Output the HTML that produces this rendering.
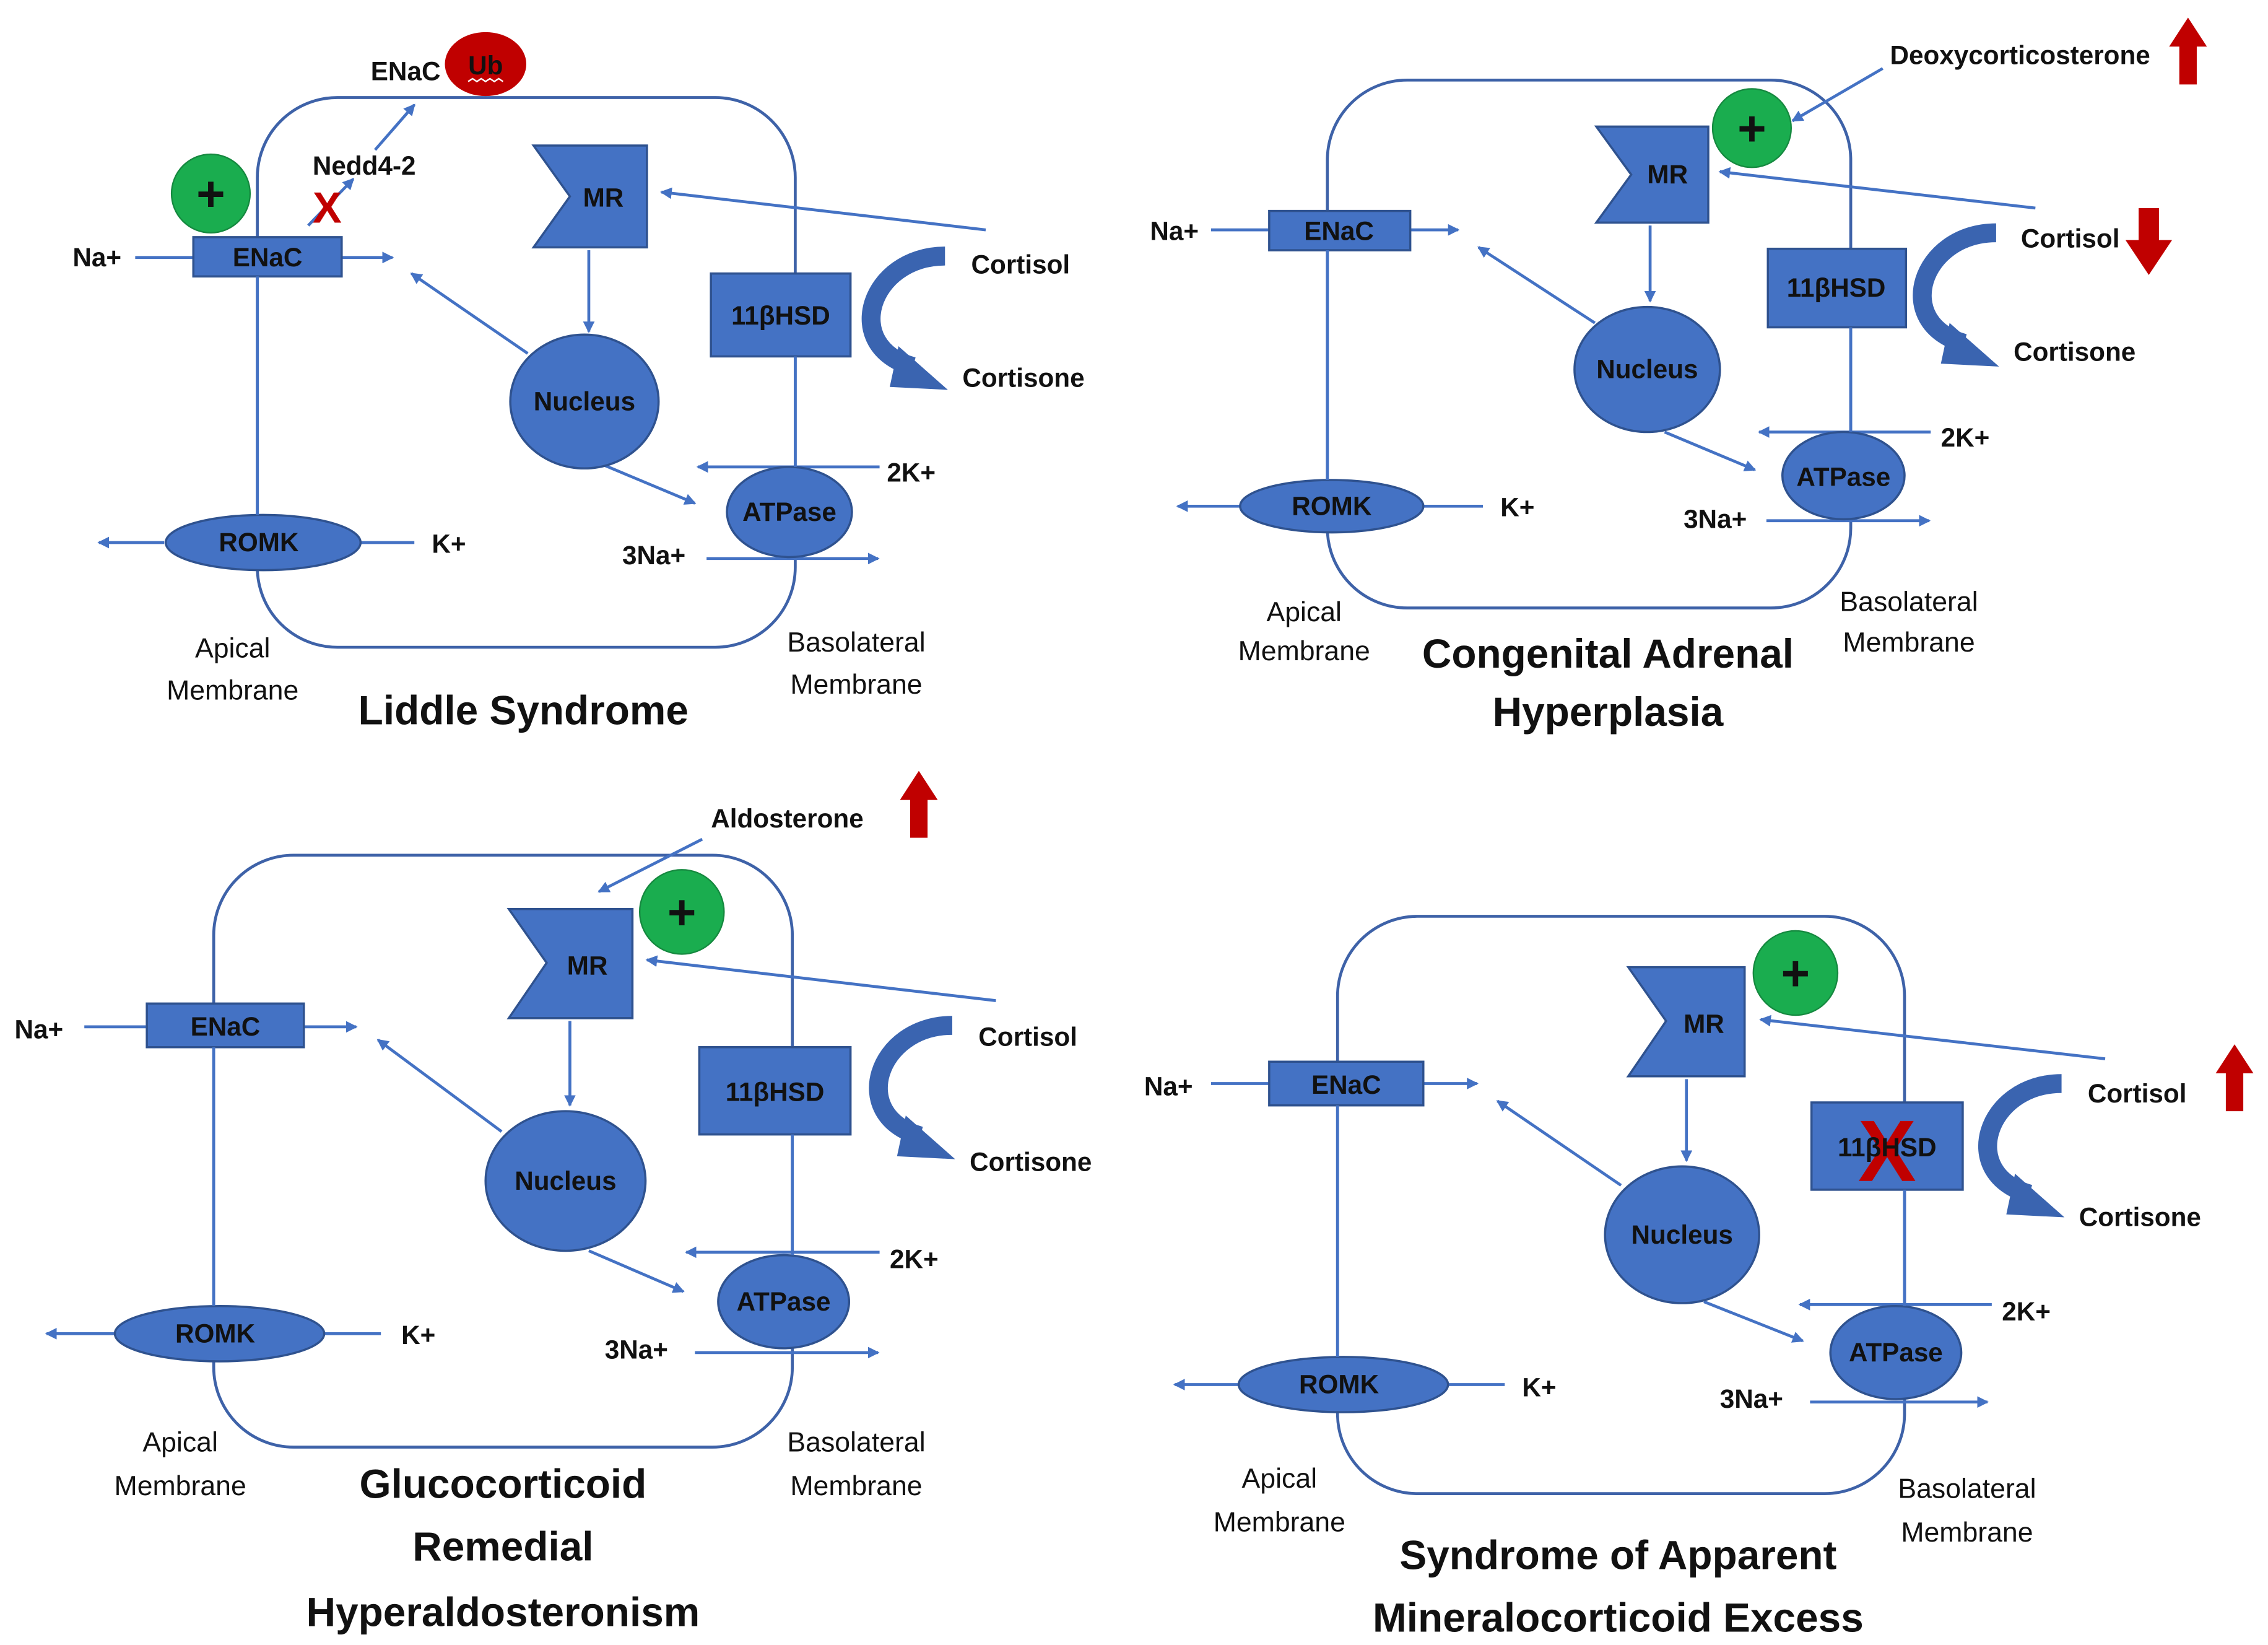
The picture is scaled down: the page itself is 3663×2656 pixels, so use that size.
<!DOCTYPE html>
<html><head><meta charset="utf-8"><style>
html,body{margin:0;padding:0;background:#fff;}
svg{display:block}
text{font-family:"Liberation Sans",sans-serif;fill:#111;}
.b{font-weight:bold;font-size:18px;}
.n{font-size:19px;}
.t{font-weight:bold;font-size:28px;}
</style></head><body>
<svg width="3663" height="2656" viewBox="0 0 1560 1131" xmlns="http://www.w3.org/2000/svg">
<defs>
<marker id="ah" markerWidth="8" markerHeight="8" refX="7" refY="4" orient="auto" markerUnits="userSpaceOnUse" viewBox="0 0 8 8"><path d="M0,0 L8,4 L0,8 Z" fill="#4472C4"/></marker>
<g id="curv">
<path d="M650,176 C598,176 578,238 628,252" fill="none" stroke="#3a64b0" stroke-width="13"/>
<polygon points="618,238 652,268 612,266" fill="#3a64b0"/>
</g>
<g id="up"><polygon points="0,20 13,0 26,20 19,20 19,46 7,46 7,20" fill="#c00000"/></g>
</defs>
<g stroke="#3e62a8" fill="none" stroke-width="2">
<rect x="177" y="67" width="370" height="378" rx="55"/>
<rect x="913" y="55" width="360" height="363" rx="55"/>
<rect x="147" y="588" width="398" height="407" rx="55"/>
<rect x="920" y="630" width="390" height="397" rx="55"/>
</g>
<g stroke="#4472C4" stroke-width="2" fill="none" marker-end="url(#ah)">
<!-- P1 -->
<line x1="93" y1="177" x2="133" y2="177" marker-end="none"/>
<line x1="235" y1="177" x2="270" y2="177"/>
<line x1="212" y1="155" x2="243" y2="123"/>
<line x1="258" y1="103" x2="285" y2="72"/>
<line x1="678" y1="158" x2="455" y2="132"/>
<line x1="405" y1="172" x2="405" y2="228"/>
<line x1="363" y1="243" x2="283" y2="188"/>
<line x1="416" y1="320" x2="478" y2="346"/>
<line x1="605" y1="321" x2="480" y2="321"/>
<line x1="486" y1="384" x2="604" y2="384"/>
<line x1="113" y1="373" x2="68" y2="373"/>
<line x1="248" y1="373" x2="285" y2="373" marker-end="none"/>
<!-- P2 -->
<line x1="833" y1="158" x2="873" y2="158" marker-end="none"/>
<line x1="970" y1="158" x2="1003" y2="158"/>
<line x1="1295" y1="47" x2="1233" y2="83"/>
<line x1="1400" y1="143" x2="1183" y2="118"/>
<line x1="1135" y1="155" x2="1135" y2="207"/>
<line x1="1097" y1="222" x2="1017" y2="170"/>
<line x1="1145" y1="297" x2="1207" y2="323"/>
<line x1="1328" y1="297" x2="1210" y2="297"/>
<line x1="1215" y1="358" x2="1327" y2="358"/>
<line x1="853" y1="348" x2="810" y2="348"/>
<line x1="979" y1="348" x2="1020" y2="348" marker-end="none"/>
<!-- P3 -->
<line x1="58" y1="706" x2="101" y2="706" marker-end="none"/>
<line x1="209" y1="706" x2="245" y2="706"/>
<line x1="483" y1="577" x2="412" y2="613"/>
<line x1="685" y1="688" x2="445" y2="660"/>
<line x1="392" y1="702" x2="392" y2="760"/>
<line x1="345" y1="778" x2="260" y2="715"/>
<line x1="405" y1="860" x2="470" y2="888"/>
<line x1="605" y1="861" x2="472" y2="861"/>
<line x1="478" y1="930" x2="604" y2="930"/>
<line x1="79" y1="917" x2="32" y2="917"/>
<line x1="223" y1="917" x2="262" y2="917" marker-end="none"/>
<!-- P4 -->
<line x1="833" y1="745" x2="873" y2="745" marker-end="none"/>
<line x1="979" y1="745" x2="1016" y2="745"/>
<line x1="1448" y1="728" x2="1211" y2="701"/>
<line x1="1160" y1="742" x2="1160" y2="798"/>
<line x1="1115" y1="815" x2="1030" y2="757"/>
<line x1="1172" y1="895" x2="1240" y2="922"/>
<line x1="1370" y1="897" x2="1238" y2="897"/>
<line x1="1245" y1="964" x2="1367" y2="964"/>
<line x1="852" y1="952" x2="808" y2="952"/>
<line x1="996" y1="952" x2="1035" y2="952" marker-end="none"/>
</g>
<use href="#curv"/>
<use href="#curv" transform="translate(723,-16)"/>
<use href="#curv" transform="translate(5,529)"/>
<use href="#curv" transform="translate(768,569)"/>
<use href="#up" transform="translate(1492,12)"/>
<use href="#up" transform="translate(619,530)"/>
<use href="#up" transform="translate(1524,718)"/>
<polygon points="1471,143 1485,143 1485,165 1494,165 1478,189 1462,165 1471,165" fill="#c00000"/>
<g fill="#4472C4" stroke="#2f528f" stroke-width="1.5">
<!-- P1 -->
<rect x="133" y="163" width="102" height="27"/>
<polygon points="367,100 445,100 445,170 367,170 392,135"/>
<ellipse cx="402" cy="276" rx="51" ry="46"/>
<rect x="489" y="188" width="96" height="57"/>
<ellipse cx="543" cy="352" rx="43" ry="31"/>
<ellipse cx="181" cy="373" rx="67" ry="19"/>
<!-- P2 -->
<rect x="873" y="145" width="97" height="27"/>
<polygon points="1098,87 1175,87 1175,153 1098,153 1122,120"/>
<ellipse cx="1133" cy="254" rx="50" ry="43"/>
<rect x="1216" y="171" width="95" height="54"/>
<ellipse cx="1268" cy="327" rx="42" ry="30"/>
<ellipse cx="916" cy="348" rx="63" ry="18"/>
<!-- P3 -->
<rect x="101" y="690" width="108" height="30"/>
<polygon points="350,625 435,625 435,700 350,700 376,662"/>
<ellipse cx="389" cy="812" rx="55" ry="48"/>
<rect x="481" y="720" width="104" height="60"/>
<ellipse cx="539" cy="895" rx="45" ry="32"/>
<ellipse cx="151" cy="917" rx="72" ry="19"/>
<!-- P4 -->
<rect x="873" y="730" width="106" height="30"/>
<polygon points="1120,665 1200,665 1200,740 1120,740 1146,702"/>
<ellipse cx="1157" cy="849" rx="53" ry="47"/>
<rect x="1246" y="758" width="104" height="60"/>
<ellipse cx="1304" cy="930" rx="45" ry="32"/>
<ellipse cx="924" cy="952" rx="72" ry="19"/>
</g>
<g stroke="#4472C4" stroke-width="2">
<line x1="177" y1="190" x2="177" y2="354"/>
<line x1="547" y1="245" x2="547" y2="321"/>
<line x1="913" y1="172" x2="913" y2="330"/>
<line x1="1273" y1="225" x2="1273" y2="297"/>
<line x1="147" y1="720" x2="147" y2="898"/>
<line x1="545" y1="780" x2="545" y2="863"/>
<line x1="920" y1="760" x2="920" y2="933"/>
<line x1="1310" y1="818" x2="1310" y2="898"/>
</g>
<!-- circles -->
<g fill="#1aad4f" stroke="#15893f">
<circle cx="145" cy="133" r="27"/>
<circle cx="1205" cy="88" r="27"/>
<circle cx="469" cy="627" r="29"/>
<circle cx="1235" cy="669" r="29"/>
</g>
<g font-family="Liberation Sans" font-weight="bold" font-size="34" text-anchor="middle">
<text x="145" y="145">+</text><text x="1205" y="100">+</text><text x="469" y="639">+</text><text x="1235" y="681">+</text>
</g>
<ellipse cx="334" cy="44" rx="28" ry="22" fill="#c00000"/>
<text class="b" x="334" y="51" text-anchor="middle" style="fill:#111">Ub</text>
<path d="M322,56 l3,-2 3,2 3,-2 3,2 3,-2 3,2 3,-2 3,2" stroke="#fff" fill="none" stroke-width="1"/>
<text x="225" y="153" text-anchor="middle" font-weight="bold" font-size="30" style="fill:#c00000">X</text>
<text x="1298" y="812" text-anchor="middle" font-weight="bold" font-size="60" style="fill:#c00000">X</text>
<g class="b" text-anchor="middle">
<text x="184" y="183">ENaC</text><text x="415" y="142">MR</text><text x="402" y="282">Nucleus</text><text x="537" y="223">11βHSD</text><text x="543" y="358">ATPase</text><text x="178" y="379">ROMK</text>
<text x="921" y="165">ENaC</text><text x="1147" y="126">MR</text><text x="1133" y="260">Nucleus</text><text x="1263" y="204">11βHSD</text><text x="1268" y="334">ATPase</text><text x="916" y="354">ROMK</text>
<text x="155" y="712">ENaC</text><text x="404" y="670">MR</text><text x="389" y="818">Nucleus</text><text x="533" y="757">11βHSD</text><text x="539" y="901">ATPase</text><text x="148" y="923">ROMK</text>
<text x="926" y="752">ENaC</text><text x="1172" y="710">MR</text><text x="1157" y="855">Nucleus</text><text x="1298" y="795">11βHSD</text><text x="1304" y="936">ATPase</text><text x="921" y="958">ROMK</text>
</g>
<g class="b">
<text x="50" y="183">Na+</text><text x="215" y="120">Nedd4-2</text><text x="255" y="55">ENaC</text><text x="668" y="188">Cortisol</text><text x="662" y="266">Cortisone</text><text x="610" y="331">2K+</text><text x="428" y="388">3Na+</text><text x="297" y="380">K+</text>
<text x="791" y="165">Na+</text><text x="1300" y="44">Deoxycorticosterone</text><text x="1390" y="170">Cortisol</text><text x="1385" y="248">Cortisone</text><text x="1335" y="307">2K+</text><text x="1158" y="363">3Na+</text><text x="1032" y="355">K+</text>
<text x="10" y="714">Na+</text><text x="489" y="569">Aldosterone</text><text x="673" y="719">Cortisol</text><text x="667" y="805">Cortisone</text><text x="612" y="872">2K+</text><text x="416" y="934">3Na+</text><text x="276" y="924">K+</text>
<text x="787" y="753">Na+</text><text x="1436" y="758">Cortisol</text><text x="1430" y="843">Cortisone</text><text x="1377" y="908">2K+</text><text x="1183" y="968">3Na+</text><text x="1047" y="960">K+</text>
</g>
<g class="n" text-anchor="middle">
<text x="160" y="452">Apical</text><text x="160" y="481">Membrane</text><text x="589" y="448">Basolateral</text><text x="589" y="477">Membrane</text>
<text x="897" y="427">Apical</text><text x="897" y="454">Membrane</text><text x="1313" y="420">Basolateral</text><text x="1313" y="448">Membrane</text>
<text x="124" y="998">Apical</text><text x="124" y="1028">Membrane</text><text x="589" y="998">Basolateral</text><text x="589" y="1028">Membrane</text>
<text x="880" y="1023">Apical</text><text x="880" y="1053">Membrane</text><text x="1353" y="1030">Basolateral</text><text x="1353" y="1060">Membrane</text>
</g>
<g class="t" text-anchor="middle">
<text x="360" y="498">Liddle Syndrome</text>
<text x="1106" y="459">Congenital Adrenal</text><text x="1106" y="499">Hyperplasia</text>
<text x="346" y="1030">Glucocorticoid</text><text x="346" y="1073">Remedial</text><text x="346" y="1118">Hyperaldosteronism</text>
<text x="1113" y="1079">Syndrome of Apparent</text><text x="1113" y="1122">Mineralocorticoid Excess</text>
</g>
</svg>
</body></html>
